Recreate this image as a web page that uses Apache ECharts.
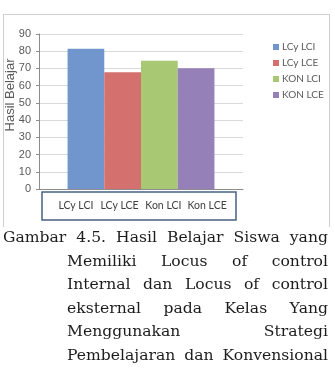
<!DOCTYPE html>
<html>
<head>
<meta charset="utf-8">
<script src="https://cdn.jsdelivr.net/npm/echarts@6/dist/echarts.min.js"></script>
<style>
  html, body { margin: 0; padding: 0; background: #fff; }
  #wrap { position: relative; width: 335px; height: 380px; overflow: hidden; }
  #frame { position: absolute; left: 3px; top: 14px; width: 325px; height: 212px; border: 1.5px solid #d0d0d0; border-bottom: none; }
  #main { position: absolute; left: 0; top: 0; width: 335px; height: 380px; }
  #caption { position: absolute; left: 3px; top: 226px; width: 325px; font-family: "DejaVu Serif", serif; font-size: 15.6px; line-height: 23.5px; color: #1c1c1c; }
  #caption div { display: flex; justify-content: space-between; white-space: nowrap; }
  #caption .ind { margin-left: 64px; }
</style>
</head>
<body>
<div id="wrap">
  <div id="frame"></div>
  <div id="main"></div>
  <div id="caption">
    <div><span>Gambar</span><span>4.5.</span><span>Hasil</span><span>Belajar</span><span>Siswa</span><span>yang</span></div>
    <div class="ind"><span>Memiliki</span><span>Locus</span><span>of</span><span>control</span></div>
    <div class="ind"><span>Internal</span><span>dan</span><span>Locus</span><span>of</span><span>control</span></div>
    <div class="ind"><span>eksternal</span><span>pada</span><span>Kelas</span><span>Yang</span></div>
    <div class="ind"><span>Menggunakan</span><span>Strategi</span></div>
    <div class="ind"><span>Pembelajaran</span><span>dan</span><span>Konvensional</span></div>
  </div>
</div>
<script>
// data
var seriesNames = ['LCy LCI', 'LCy LCE', 'KON LCI', 'KON LCE'];
var groupLabels = ['LCy LCI', 'LCy LCE', 'Kon LCI', 'Kon LCE'];
var values = [81.5, 67.8, 74.5, 70.1];
var colors = ['#7096cd', '#d4706e', '#a8c873', '#9580b7'];
var yTicks = [0, 90, 10]; // min, max, interval

var chart = echarts.init(document.getElementById('main'), null, { renderer: 'canvas' });

var series = seriesNames.map(function (name, i) {
  return {
    name: name,
    type: 'bar',
    xAxisIndex: 0,
    yAxisIndex: 0,
    data: [values[i]],
    barGap: '0%',
    barCategoryGap: '28%',
    itemStyle: { color: colors[i] }
  };
});

var option = {
  backgroundColor: 'transparent',
  animation: false,
  textStyle: { fontFamily: 'Lato, sans-serif' },
  legend: {
    orient: 'vertical',
    left: 268,
    top: 36,
    itemWidth: 6,
    itemHeight: 6,
    itemGap: 4,
    icon: 'rect',
    data: seriesNames,
    textStyle: { fontSize: 10, lineHeight: 12, color: '#595959', fontFamily: 'Lato, sans-serif', padding: [0, 0, 0, -2] }
  },
  grid: [
    { left: 39, right: 92, top: 34, bottom: 191 },
    { left: 54, right: 106, top: 34, bottom: 191 }
  ],
  xAxis: [
    {
      type: 'category',
      gridIndex: 0,
      data: ['Hasil Belajar'],
      axisLine: { lineStyle: { color: '#8c8c8c' } },
      axisTick: { show: false },
      axisLabel: { show: false }
    },
    {
      type: 'category',
      gridIndex: 1,
      data: groupLabels,
      axisLine: { show: false },
      axisTick: { show: false },
      axisLabel: { interval: 0, margin: 11, fontSize: 10.5, color: '#404040', fontFamily: 'Lato, sans-serif' }
    }
  ],
  yAxis: [
    {
      type: 'value',
      gridIndex: 0,
      min: yTicks[0],
      max: yTicks[1],
      interval: yTicks[2],
      axisLine: { show: true, lineStyle: { color: '#8c8c8c' } },
      axisTick: { show: true, length: 3, lineStyle: { color: '#8c8c8c' } },
      axisLabel: { fontSize: 11, color: '#595959', margin: 8, fontFamily: 'Liberation Sans, sans-serif' },
      splitLine: { lineStyle: { color: '#d9d9d9' } }
    },
    {
      type: 'value',
      gridIndex: 1,
      show: false,
      min: 0,
      max: 90
    }
  ],
  graphic: [
    {
      type: 'text',
      x: 10,
      y: 95,
      rotation: Math.PI / 2,
      style: {
        text: 'Hasil Belajar',
        align: 'center',
        verticalAlign: 'middle',
        fontSize: 13,
        fill: '#595959',
        fontFamily: 'Liberation Sans, sans-serif'
      }
    },
    {
      type: 'rect',
      shape: { x: 42, y: 192, width: 194, height: 28 },
      style: { fill: 'none', stroke: '#4a6082', lineWidth: 1.5 }
    }
  ],
  series: series
};

chart.setOption(option);
</script>
</body>
</html>
